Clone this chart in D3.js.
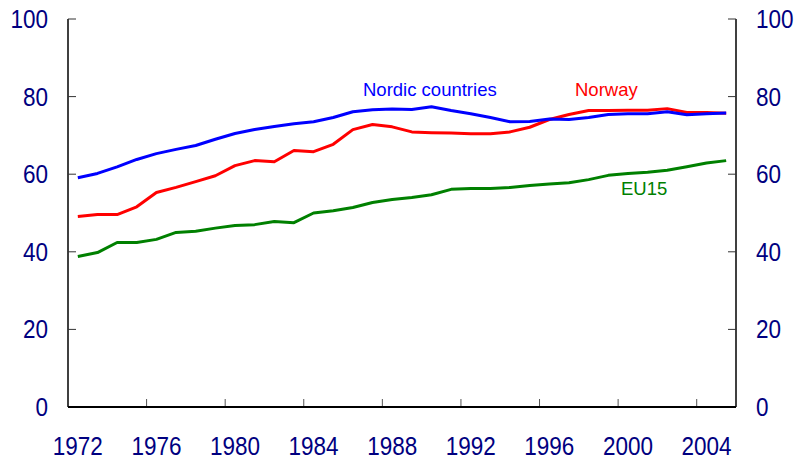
<!DOCTYPE html>
<html><head><meta charset="utf-8">
<script src="https://cdn.jsdelivr.net/npm/d3@7"></script>
<style>body{margin:0;background:#fff}svg{display:block}text{font-family:"Liberation Sans",Arial,sans-serif}</style>
</head><body><svg id="c" width="800" height="461"></svg>
<script>
const years = d3.range(1972, 2006);
const nordic = [59.1,60.2,61.9,63.8,65.3,66.4,67.4,69.0,70.5,71.5,72.3,73.0,73.5,74.6,76.1,76.6,76.8,76.7,77.4,76.4,75.6,74.6,73.5,73.6,74.2,74.1,74.6,75.4,75.6,75.6,76.1,75.3,75.6,75.8];
const norway = [49.1,49.6,49.6,51.6,55.3,56.6,58.1,59.6,62.2,63.5,63.2,66.1,65.8,67.7,71.5,72.8,72.2,70.9,70.7,70.6,70.4,70.4,70.9,72.1,74.1,75.4,76.4,76.4,76.5,76.5,76.9,75.9,75.9,75.7];
const eu15 = [38.8,39.8,42.4,42.4,43.2,45.0,45.3,46.1,46.8,47.0,47.8,47.5,50.0,50.6,51.4,52.7,53.5,54.0,54.7,56.1,56.3,56.3,56.6,57.1,57.5,57.8,58.6,59.7,60.2,60.5,61.0,61.9,62.9,63.5];
const xTickYears = [1972,1976,1980,1984,1988,1992,1996,2000,2004];
const yTicks = [0,20,40,60,80,100];
const seriesNames = ["Nordic countries","Norway","EU15"];

const svg = d3.select("#c");
const L = 68, R = 736, T = 19, B = 407;
const x = d3.scaleBand().domain(years).range([L, R]).padding(0);
const y = d3.scaleLinear().domain([0, 100]).range([B, T]);
const navy = "#000080";

// axes lines
svg.append("line").attr("x1", L).attr("x2", L).attr("y1", T).attr("y2", B).attr("stroke", "#000").attr("stroke-width", 1.5);
svg.append("line").attr("x1", R).attr("x2", R).attr("y1", T).attr("y2", B).attr("stroke", "#000").attr("stroke-width", 1.5);
// y ticks
yTicks.forEach(v => {
  svg.append("line").attr("x1", L).attr("x2", L + 8).attr("y1", y(v)).attr("y2", y(v)).attr("stroke", "#333").attr("stroke-width", 1);
  svg.append("line").attr("x1", R - 8).attr("x2", R).attr("y1", y(v)).attr("y2", y(v)).attr("stroke", "#333").attr("stroke-width", 1);
  svg.append("text").attr("transform", `translate(48,${y(v) + 9}) scale(0.9,1)`).attr("text-anchor", "end")
    .attr("font-size", 25).attr("fill", navy).text(v);
  svg.append("text").attr("transform", `translate(756,${y(v) + 9}) scale(0.9,1)`).attr("text-anchor", "start")
    .attr("font-size", 25).attr("fill", navy).text(v);
});
// x ticks
xTickYears.forEach(yr => {
  if (yr !== 1972) svg.append("line").attr("x1", x(yr)).attr("x2", x(yr)).attr("y1", B).attr("y2", B - 8).attr("stroke", "#555").attr("stroke-width", 1);
  svg.append("text").attr("transform", `translate(${x(yr) + x.bandwidth() / 2},455) scale(0.9,1)`).attr("text-anchor", "middle")
    .attr("font-size", 25).attr("fill", navy).text(yr);
});
svg.append("line").attr("x1", L).attr("x2", R).attr("y1", B).attr("y2", B).attr("stroke", "#000").attr("stroke-width", 2);

const line = d3.line().x((d, i) => x(years[i]) + x.bandwidth() / 2).y(d => y(d));
[[eu15, "#008000"], [norway, "#ff0000"], [nordic, "#0000ff"]].forEach(([data, col]) => {
  svg.append("path").attr("d", line(data)).attr("fill", "none").attr("stroke", col).attr("stroke-width", 3).attr("stroke-linejoin", "round");
});

svg.append("text").attr("x", 363).attr("y", 96).attr("font-size", 18.5).attr("fill", "#0000ff").text(seriesNames[0]);
svg.append("text").attr("x", 575).attr("y", 96).attr("font-size", 18.5).attr("fill", "#ff0000").text(seriesNames[1]);
svg.append("text").attr("x", 621).attr("y", 195).attr("font-size", 18.5).attr("fill", "#008000").text(seriesNames[2]);
</script></body></html>
